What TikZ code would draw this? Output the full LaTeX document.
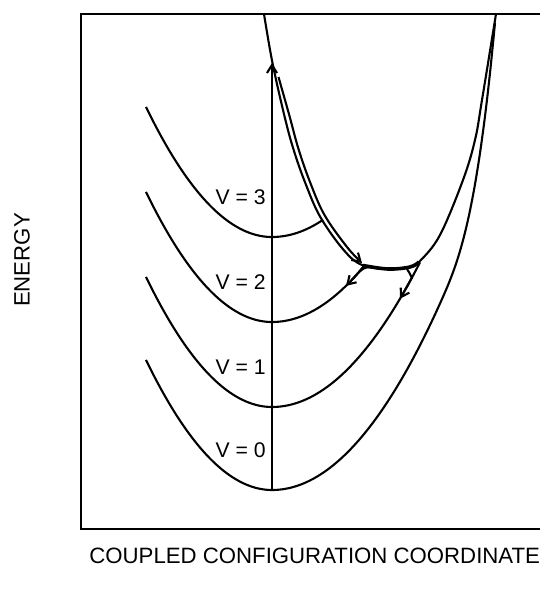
\documentclass[tikz,border=0pt]{standalone}
\usepackage{fontspec}
\setmainfont{Liberation Sans}
\usetikzlibrary{arrows.meta}

\begin{document}
\begin{tikzpicture}[
  x=0.5pt, y=-0.5pt,
  declare function={ground(\d)=(\d<0) ? 0.0082*\d*\d :
      0.0066*\d*\d + 0.000935*max(0,\d-170)*max(0,\d-170)*max(0,\d-170);},
  curve/.style={line width=1.05pt, line join=round},
  tip/.style={-{Straight Barb[length=4pt,width=5pt]}},
  lvl/.style={font=\fontsize{10.6}{12}\selectfont, anchor=east, inner sep=1pt},
  axis/.style={font=\fontsize{11.1}{13}\selectfont, inner sep=0pt}
]
\useasboundingbox (0,0) rectangle (540,591);

% frame, its right side lies past the edge
\draw[line width=1.4pt] (81,14) rectangle (570,529);

% ground state levels
\foreach \v/\y/\r in {0/490/223, 1/407/148, 2/322/93, 3/237/51} {
  \coordinate (g\v) at (272,\y);
  \draw[curve] plot[domain=-126:\r, samples=70, smooth] ({272+\x}, {\y-ground(\x)});
  \node[lvl] (lab\v) at (268,\y-40) {V = \v};
}

% excited state curve
\draw[curve] plot[smooth, tension=0.6] coordinates {
  (264,14) (272.5,63) (284.7,117) (293.7,150) (305.3,183) (320.3,217)
  (343.7,250) (362,265) (388,269) (410,267) (420,261) (440,235)
  (463,180) (475,140) (482,100) (496,14)};
\draw[line width=1.8pt] plot[smooth, tension=0.6] coordinates {
  (363,265.5) (388,269) (410,267) (419,262)};

% parallel line down the excited curve
\draw[curve, tip] plot[smooth, tension=0.6] coordinates {
  (278.5,77) (289.5,116) (298.5,149) (310,182) (324.5,215) (347,247) (362,263)};

% excitation
\coordinate (top) at (272,63);
\draw[curve, tip] (g0) -- (top);

% branches into V = 2 and V = 1
\coordinate (j2) at (369,267);
\coordinate (j1) at (407,269);
\draw[curve] (j2) .. controls (364,268) .. (359,272);
\draw[curve] (j1) .. controls (409,272) .. (412,278);
\draw[curve, tip] plot[domain=93:74, samples=5, smooth] ({272+\x}, {322-ground(\x)});
\draw[curve, tip] plot[domain=140:128, samples=5, smooth] ({272+\x}, {407-ground(\x)});

% axis labels
\node[axis, rotate=90] (energy) at (22,260) {ENERGY};
\node[axis, anchor=base west] (coord) at (89,563) {COUPLED CONFIGURATION COORDINATE};
\end{tikzpicture}
\end{document}
